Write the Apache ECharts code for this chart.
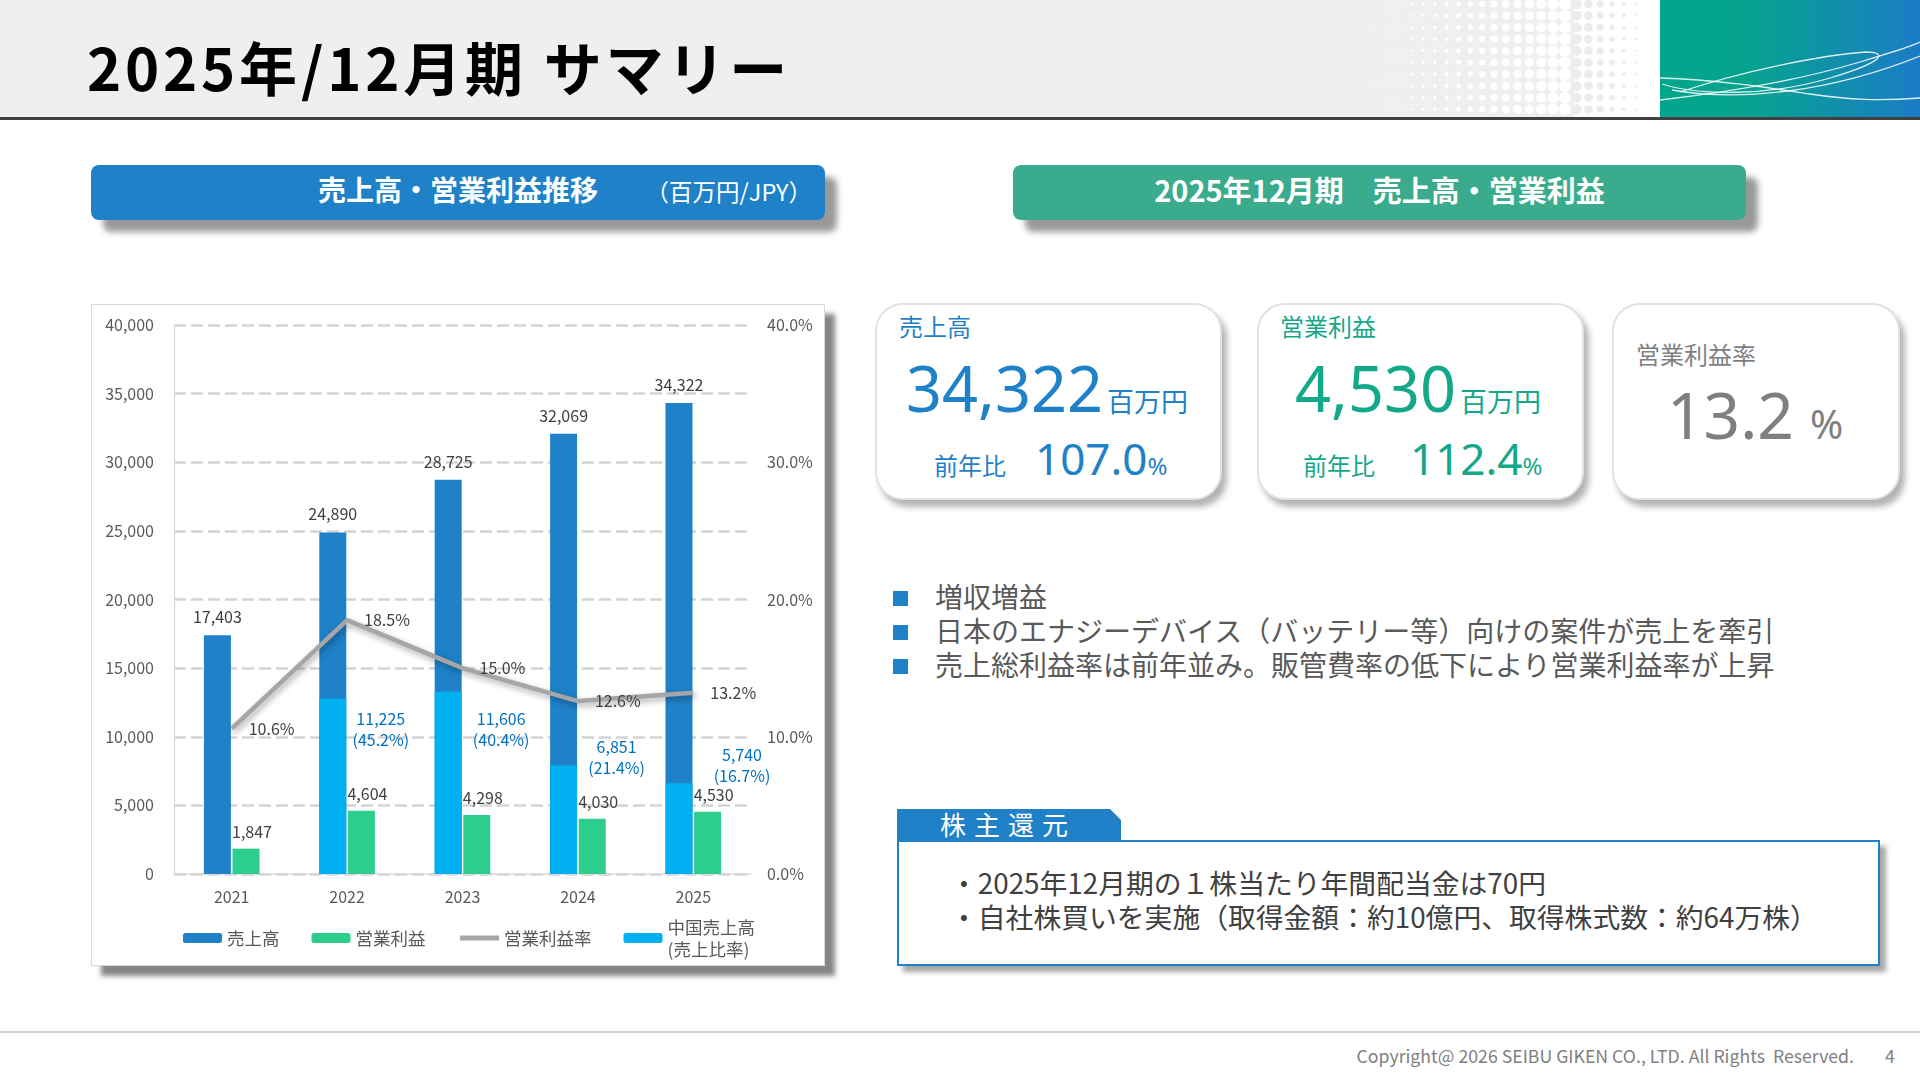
<!DOCTYPE html>
<html><head><meta charset="utf-8">
<script src="https://cdn.jsdelivr.net/npm/echarts@6/dist/echarts.min.js"></script>
<style>
html,body{margin:0;padding:0;width:1920px;height:1080px;overflow:hidden;background:#fff;font-family:'Noto Sans CJK JP',sans-serif;}
.abs{position:absolute;white-space:nowrap;}
.card{position:absolute;background:#fff;border:2px solid #e2e2e2;border-radius:28px;box-sizing:border-box;box-shadow:5px 7px 6px rgba(0,0,0,0.30);}
.row{position:absolute;display:flex;align-items:baseline;white-space:nowrap;}
.num{font-family:'Noto Sans','Open Sans',sans-serif;line-height:1;}
.jp{font-family:'Noto Sans CJK JP',sans-serif;line-height:1;}
.sq{position:absolute;width:15px;height:15px;background:#1f81c8;}
.bl{position:absolute;white-space:nowrap;font-size:28px;line-height:28px;color:#595959;}
</style></head><body>
<!-- header -->
<div class="abs" style="left:0;top:0;width:1920px;height:117px;background:#efefef"></div>
<svg id="deco" class="abs" style="left:0;top:0" width="1920" height="117"></svg>
<div class="abs" style="left:0;top:117px;width:1920px;height:3px;background:#404040"></div>
<div class="abs" style="left:87px;top:37px;font-size:58px;line-height:58px;font-weight:700;letter-spacing:3.8px;color:#000">2025年/12月期&nbsp;サマリー</div>

<!-- section bars -->
<div class="abs" style="left:91px;top:165px;width:734px;height:55px;background:#1f81c8;border-radius:8px;box-shadow:12px 12px 6px rgba(0,0,0,0.40)">
  <div style="position:absolute;left:0;right:0;top:0;text-align:center;font-size:28px;line-height:49px;font-weight:700;color:#fff">売上高・営業利益推移</div>
  <div style="position:absolute;right:13px;top:0;font-size:23.5px;line-height:53px;color:#fff">（百万円/JPY）</div>
</div>
<div class="abs" style="left:1013px;top:165px;width:733px;height:55px;background:#3aab8c;border-radius:8px;box-shadow:12px 12px 6px rgba(0,0,0,0.40)">
  <div style="position:absolute;left:0;right:0;top:0;text-align:center;font-size:29px;line-height:48px;font-weight:700;color:#fff">2025年12月期　売上高・営業利益</div>
</div>

<!-- chart box -->
<div class="abs" style="left:91px;top:304px;width:734px;height:662px;box-sizing:border-box;border:1px solid #d9d9d9;background:#fff;box-shadow:10px 10px 5px rgba(0,0,0,0.48)">
  <div id="chart" style="position:absolute;left:0;top:0;width:732px;height:660px"></div>
</div>

<!-- KPI cards -->
<div class="card" style="left:875px;top:303px;width:347px;height:197px"></div>
<div class="card" style="left:1257px;top:303px;width:327px;height:197px"></div>
<div class="card" style="left:1612px;top:303px;width:288px;height:197px"></div>

<div class="abs jp" style="left:899px;top:314px;font-size:24px;color:#1f81c8">売上高</div>
<div class="row" style="left:906px;top:356px;color:#1f81c8"><span class="num" style="font-size:63px">34,322</span><span class="jp" style="font-size:27px;margin-left:4px">百万円</span></div>
<div class="row" style="left:934px;top:436px;color:#1f81c8"><span class="jp" style="font-size:24px">前年比</span><span class="num" style="font-size:44px;margin-left:29px">107.0</span><span class="num" style="font-size:24px">%</span></div>

<div class="abs jp" style="left:1280px;top:314px;font-size:24px;color:#14a88a">営業利益</div>
<div class="row" style="left:1295px;top:356px;color:#14a88a"><span class="num" style="font-size:63px">4,530</span><span class="jp" style="font-size:27px;margin-left:4px">百万円</span></div>
<div class="row" style="left:1303px;top:436px;color:#14a88a"><span class="jp" style="font-size:24px">前年比</span><span class="num" style="font-size:44px;margin-left:35px">112.4</span><span class="num" style="font-size:24px">%</span></div>

<div class="abs jp" style="left:1636px;top:342px;font-size:24px;color:#7f7f7f">営業利益率</div>
<div class="row" style="left:1667px;top:383px;color:#7f7f7f"><span class="num" style="font-size:64px">13.2</span><span class="num" style="font-size:40px;margin-left:16px">%</span></div>

<!-- bullets -->
<div class="sq" style="left:893px;top:591px"></div>
<div class="sq" style="left:893px;top:625px"></div>
<div class="sq" style="left:893px;top:659px"></div>
<div class="bl" style="left:935px;top:582px">増収増益</div>
<div class="bl" style="left:935px;top:616px">日本のエナジーデバイス（バッテリー等）向けの案件が売上を牽引</div>
<div class="bl" style="left:935px;top:650px">売上総利益率は前年並み。販管費率の低下により営業利益率が上昇</div>

<!-- shareholder return -->
<div class="abs" style="left:897px;top:840px;width:983px;height:126px;box-sizing:border-box;border:2px solid #1f81c8;background:#fff;box-shadow:6px 6px 5px rgba(0,0,0,0.35)"></div>
<div class="abs" style="left:897px;top:809px;width:224px;height:33px;background:#1f81c8;clip-path:polygon(0 0,calc(100% - 11px) 0,100% 11px,100% 100%,0 100%)"></div>
<div class="abs" style="left:940px;top:811px;font-size:26px;line-height:26px;letter-spacing:8px;color:#fff">株主還元</div>
<div class="abs" style="left:950px;top:868px;font-size:27.8px;line-height:28px;color:#404040">・2025年12月期の１株当たり年間配当金は70円</div>
<div class="abs" style="left:950px;top:902px;font-size:27.8px;line-height:28px;color:#404040">・自社株買いを実施（取得金額：約10億円、取得株式数：約64万株）</div>

<!-- footer -->
<div class="abs" style="left:0;top:1031px;width:1920px;height:2px;background:#d0d0d0"></div>
<div class="abs" style="right:66px;top:1047px;font-size:17.7px;line-height:17px;color:#7f7f7f;white-space:pre">Copyright@ 2026 SEIBU GIKEN CO., LTD. All Rights  Reserved.</div>
<div class="abs" style="left:1885px;top:1047px;font-size:17.7px;line-height:17px;color:#7f7f7f">4</div>

<script>
// ---- data ----
const years = ['2021', '2022', '2023', '2024', '2025'];
const salesValues = [17403, 24890, 28725, 32069, 34322];
const opProfitValues = [1847, 4604, 4298, 4030, 4530];
const opMarginValues = [10.6, 18.5, 15.0, 12.6, 13.2];
const chinaSalesValues = [null, 12780, 13290, 7900, 6610];
const chinaLabelTexts = ['', '11,225\n(45.2%)', '11,606\n(40.4%)', '6,851\n(21.4%)', '5,740\n(16.7%)'];
const leftTicks = [0, 5000, 10000, 15000, 20000, 25000, 30000, 35000, 40000];
const rightTicks = [0, 10, 20, 30, 40];
const legendNames = ['売上高', '営業利益', '営業利益率', '中国売上高\n(売上比率)'];

// ---- label placement (style) ----
const chinaLabelOffsets = [[0, 0], [48, 52], [53, 59], [53, 13], [63, 3]];

// ---- header decoration ----
(function () {
  const svg = document.getElementById('deco');
  let html = '';
  html += '<rect x="1574" y="0" width="86" height="117" fill="#ffffff"/>';
  html += '<defs><linearGradient id="g1" x1="0" y1="0" x2="1" y2="0"><stop offset="0" stop-color="#01a68b"/><stop offset="0.35" stop-color="#06a28f"/><stop offset="1" stop-color="#1b7cc6"/></linearGradient></defs>';
  html += '<rect x="1660" y="0" width="260" height="117" fill="url(#g1)"/>';
  for (let y = 4; y < 117; y += 11.7) {
    for (let x = 1376; x < 1640; x += 11.8) {
      let r, c;
      if (x < 1572) { r = 0.6 + 5.6 * Math.pow((x - 1376) / 196, 1.3); c = '#ffffff'; }
      else { r = 5.5 - 4.6 * ((x - 1572) / 68); c = '#ececec'; }
      html += '<circle cx="' + x.toFixed(1) + '" cy="' + y.toFixed(1) + '" r="' + Math.max(r, 0.5).toFixed(2) + '" fill="' + c + '"/>';
    }
  }
  const p = 'fill="none" stroke="#ffffff" stroke-opacity="0.85" stroke-width="1.3"';
  html += '<path ' + p + ' d="M1660,78 C1720,80 1770,88 1810,94 S1880,101 1920,98"/>';
  html += '<path ' + p + ' d="M1660,100 C1730,92 1800,80 1860,62 S1905,48 1920,42"/>';
  html += '<path ' + p + ' d="M1662,84 C1700,96 1770,96 1830,78 S1885,52 1866,52 C1820,55 1740,72 1680,92"/>';
  html += '<path ' + p + ' d="M1672,90 C1740,102 1830,92 1920,56"/>';
  svg.innerHTML = html;
})();

// ---- chart ----
const fmt = v => Number(v).toLocaleString('en-US');
const chart = echarts.init(document.getElementById('chart'), null, { renderer: 'canvas' });
const FONT = "'Noto Sans CJK JP', sans-serif";
chart.setOption({
  animation: false,
  textStyle: { fontFamily: FONT },
  grid: { left: 82, right: 73, top: 20, bottom: 91 },
  legend: {
    data: legendNames,
    left: 86, top: 606,
    itemWidth: 39, itemHeight: 10, itemGap: 32,
    lineStyle: { width: 5 },
    textStyle: { fontSize: 17.5, color: '#595959', lineHeight: 22, fontFamily: FONT },
    selectedMode: false
  },
  xAxis: [
    { type: 'category', data: years, axisTick: { show: false },
      axisLine: { lineStyle: { color: '#d9d9d9', width: 1.5 } },
      axisLabel: { fontSize: 16, color: '#595959', margin: 15 } },
    { type: 'category', data: years, show: false }
  ],
  yAxis: [
    { type: 'value', min: leftTicks[0], max: leftTicks[leftTicks.length - 1], interval: leftTicks[1] - leftTicks[0],
      axisLine: { show: true, lineStyle: { color: '#d9d9d9', width: 1.2 } }, axisTick: { show: false },
      axisLabel: { fontSize: 16, color: '#595959', margin: 20, formatter: v => fmt(v) },
      splitLine: { lineStyle: { color: '#d4d4d4', width: 2.5, type: [12, 5] } } },
    { type: 'value', min: rightTicks[0], max: rightTicks[rightTicks.length - 1], interval: rightTicks[1] - rightTicks[0],
      position: 'right', axisLine: { show: false }, axisTick: { show: false }, splitLine: { show: false },
      axisLabel: { fontSize: 16, color: '#595959', margin: 16, formatter: v => v.toFixed(1) + '%' } }
  ],
  series: [
    { name: '売上高', type: 'bar', xAxisIndex: 0, yAxisIndex: 0, data: salesValues,
      barWidth: 27, barGap: '6%', itemStyle: { color: '#1f81c8' },
      label: { show: true, position: 'top', distance: 10, fontSize: 16, color: '#404040', formatter: p => fmt(p.value) } },
    { name: '営業利益', type: 'bar', xAxisIndex: 0, yAxisIndex: 0, data: opProfitValues,
      barWidth: 27, barGap: '6%', itemStyle: { color: '#2dcd8e' },
      label: { show: true, position: 'top', distance: 9, offset: [6, 0], fontSize: 16, color: '#404040', formatter: p => fmt(p.value) } },
    { name: '中国売上高\n(売上比率)', type: 'bar', xAxisIndex: 1, yAxisIndex: 0,
      data: chinaSalesValues.map((v, i) => ({ value: v, label: { offset: chinaLabelOffsets[i] } })),
      barWidth: 27, barGap: '6%', itemStyle: { color: '#00b0f0' }, z: 3,
      label: { show: true, position: 'top', distance: 0, fontSize: 16, lineHeight: 21, color: '#0070c0', align: 'center',
        formatter: p => chinaLabelTexts[p.dataIndex] } },
    { name: 'pad', type: 'bar', xAxisIndex: 1, yAxisIndex: 0, data: years.map(() => null),
      barWidth: 27, barGap: '6%', silent: true },
    { name: '営業利益率', type: 'line', xAxisIndex: 0, yAxisIndex: 1, data: opMarginValues, z: 5,
      symbol: 'circle', symbolSize: 2, itemStyle: { color: 'rgba(0,0,0,0)' },
      lineStyle: { color: '#a6a6a6', width: 4.5, shadowColor: 'rgba(0,0,0,0.35)', shadowBlur: 6, shadowOffsetX: 2, shadowOffsetY: 3 },
      label: { show: true, position: 'right', distance: 16, fontSize: 16, color: '#404040', formatter: p => p.value.toFixed(1) + '%' } }
  ]
});
</script>
</body></html>
